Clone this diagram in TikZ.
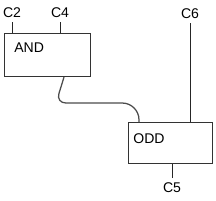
\documentclass[tikz,border=0pt]{standalone}
\usepackage{fontspec}
\setmainfont{Liberation Sans}
\usetikzlibrary{positioning}

\begin{document}
\begin{tikzpicture}[x=0.025cm, y=-0.025cm,
      font=\fontsize{10}{12}\selectfont,
      gate/.style={draw=black!80, line width=0.8pt, anchor=north west, inner sep=0pt},
      gatename/.style={anchor=north west, inner sep=0pt},
      pinlbl/.style={inner sep=3pt},
      pinline/.style={draw=black!85, line width=0.7pt},
      wire/.style={draw=black!70, line width=0.9pt}]
    \useasboundingbox (0,0) rectangle (216,200);
    \node[gate, minimum width=2.15cm, minimum height=1.075cm] (andgate) at (4,33) {};
    \node[gatename] (andname) at ([xshift=7.1pt, yshift=-7.1pt]andgate.north west) {AND};
    \node[gate, minimum width=2.1cm, minimum height=1.025cm] (oddgate) at (128,122) {};
    \node[gatename] (oddname) at ([xshift=3.6pt, yshift=-7.8pt]oddgate.north west) {ODD};
    % pins
    \node[pinlbl, anchor=south] (c2) at (12,22) {C2};
    \node[pinlbl, anchor=south] (c4) at (60,22) {C4};
    \node[pinlbl, anchor=south] (c6) at (190,23) {C6};
    \node[pinlbl, anchor=north] (c5) at (172,178) {C5};
    \draw[pinline] (c2.south) -- (c2.south |- andgate.north);
    \draw[pinline] (c4.south) -- (c4.south |- andgate.north);
    \draw[pinline] (c6.south) -- (c6.south |- oddgate.north);
    \draw[pinline] (c5.north) -- (c5.north |- oddgate.south);
    % wire AND -> ODD
    \coordinate (w1) at (andgate.south west -| 64,0);
    \coordinate (w2) at (oddgate.north west -| 139,0);
    \draw[wire] (w1) [rounded corners=7] -- (56,103) [rounded corners=12] -- (139,103) -- (w2);
\end{tikzpicture}
\end{document}
